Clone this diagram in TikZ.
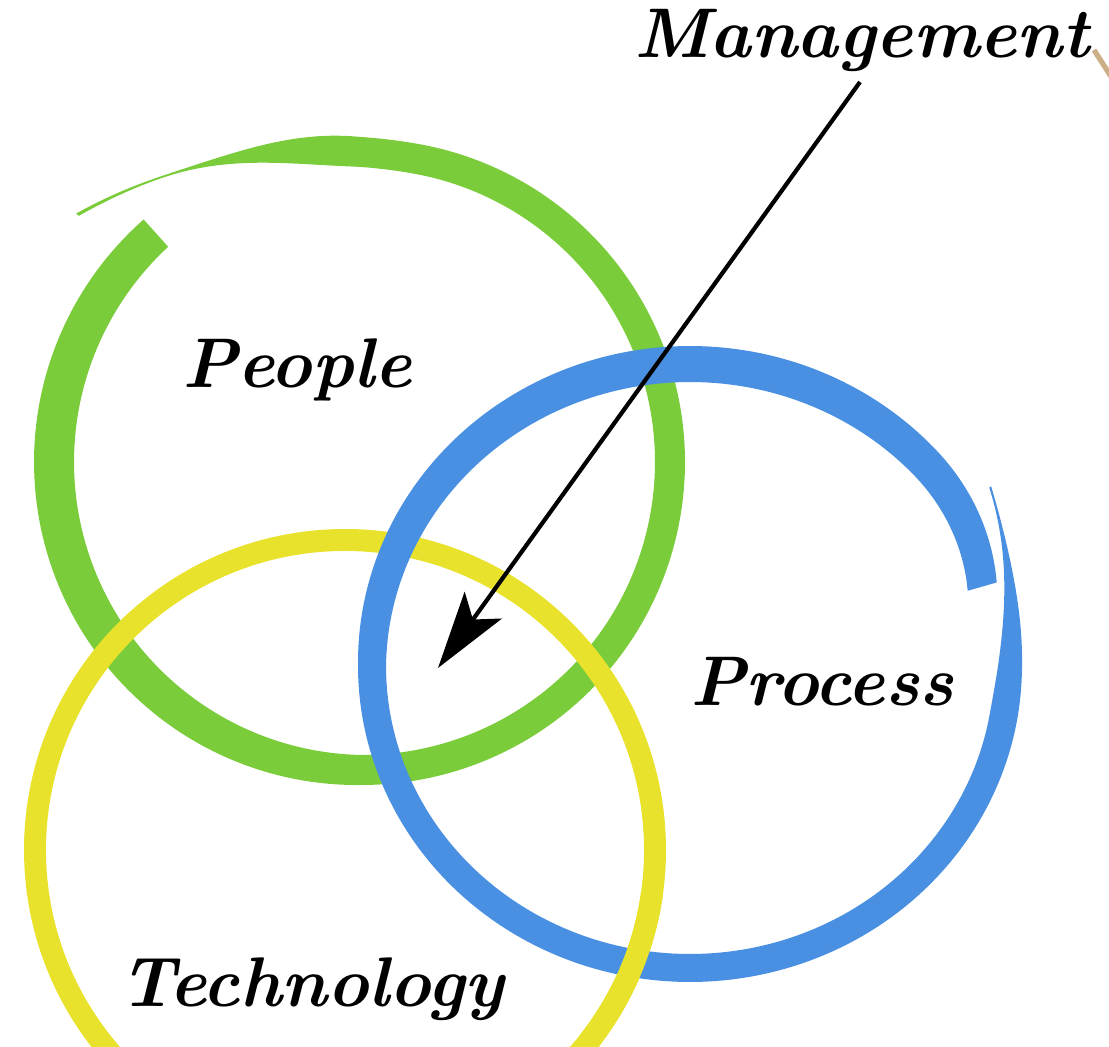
\documentclass[tikz,border=0pt]{standalone}
\usepackage{tikz}
\usetikzlibrary{arrows.meta}
\definecolor{peopleGreen}{RGB}{122,204,58}
\definecolor{processBlue}{RGB}{74,144,226}
\definecolor{techYellow}{RGB}{232,226,44}
\definecolor{pencilTan}{RGB}{205,175,135}

\begin{document}
\begin{tikzpicture}[x=0.02cm, y=0.02cm, semithick,
        declare function={
            greenOff(\t)  = 69*(max(0,(\t-440)/59))^2;
            greenHalf(\t) = max(1,15+5*max(0,-cos(\t))-8.5*(1-cos(180*min(1,max(0,(\t-452)/34)))));
            blueOff(\t)   = 36*(max(0,(\t+10)/42))^2-14*(max(0,(-318-\t)/26))^2;
            blueHalf(\t)  = max(1,14+4*max(0,sin(\t))-7.5*(1-cos(180*min(1,max(0,(\t+10)/42)))));
        }]
        \tikzset{
           yellowRing/.style={
                        draw=techYellow,
                        line width=12.5pt
                       },
           word/.style={
                        anchor=base,
                        inner sep=0pt,
                        text=black,
                        font=\fontsize{40}{48}\selectfont\bfseries\itshape
                       },
           pointer/.style={
                        -{Stealth[length=44pt,width=26pt,inset=10pt]},
                        line width=2.4pt,
                        draw=black
                       },
                 };
    %--------------------
        \useasboundingbox (0,0) rectangle (1109,-1047);
        \clip (0,0) rectangle (1109,-1047);

        % people ring, brush stroke with a thin tail
        \begin{scope}[shift={(362,-462)}]
            \fill[peopleGreen]
                plot[domain=132:499, samples=240] ({(308+greenOff(\x)+greenHalf(\x))*cos(\x)}, {(308+greenOff(\x)+greenHalf(\x))*sin(\x)})
             -- plot[domain=499:132, samples=240] ({(308+greenOff(\x)-greenHalf(\x))*cos(\x)}, {(308+greenOff(\x)-greenHalf(\x))*sin(\x)})
             -- cycle;
        \end{scope}

        % technology ring
        \draw[yellowRing] (345,-850) circle[radius=310];

        % process ring, thin start on the right
        \begin{scope}[shift={(690,-666)}]
            \fill[processBlue]
                plot[domain=32:-344, samples=250] ({(318+blueOff(\x)+blueHalf(\x))*cos(\x)}, {(302+blueOff(\x)+blueHalf(\x))*sin(\x)})
             -- plot[domain=-344:32, samples=250] ({(318+blueOff(\x)-blueHalf(\x))*cos(\x)}, {(302+blueOff(\x)-blueHalf(\x))*sin(\x)})
             -- cycle;
        \end{scope}

        % yellow goes over blue at the bottom
        \draw[yellowRing] (345,-850) ++(-38:310) arc[start angle=-38, end angle=-8, radius=310];

        % pencil tip at the edge
        \draw[pencilTan, line width=3pt] (1094,-50) -- (1112,-78);
    %--------------------
        \node[word] (mgmt)    at (862,-58)   {Management};
        \node[word] (people)  at (297,-388)  {People};
        \node[word] (process) at (822,-705)  {Process};
        \node[word] (tech)    at (312,-1006) {Technology};

        \coordinate (tail) at (860,-82);
        \coordinate (hub)  at (438,-668);
    %--------------------
        \path (tail) edge[pointer] (hub);
    \end{tikzpicture}
\end{document}
